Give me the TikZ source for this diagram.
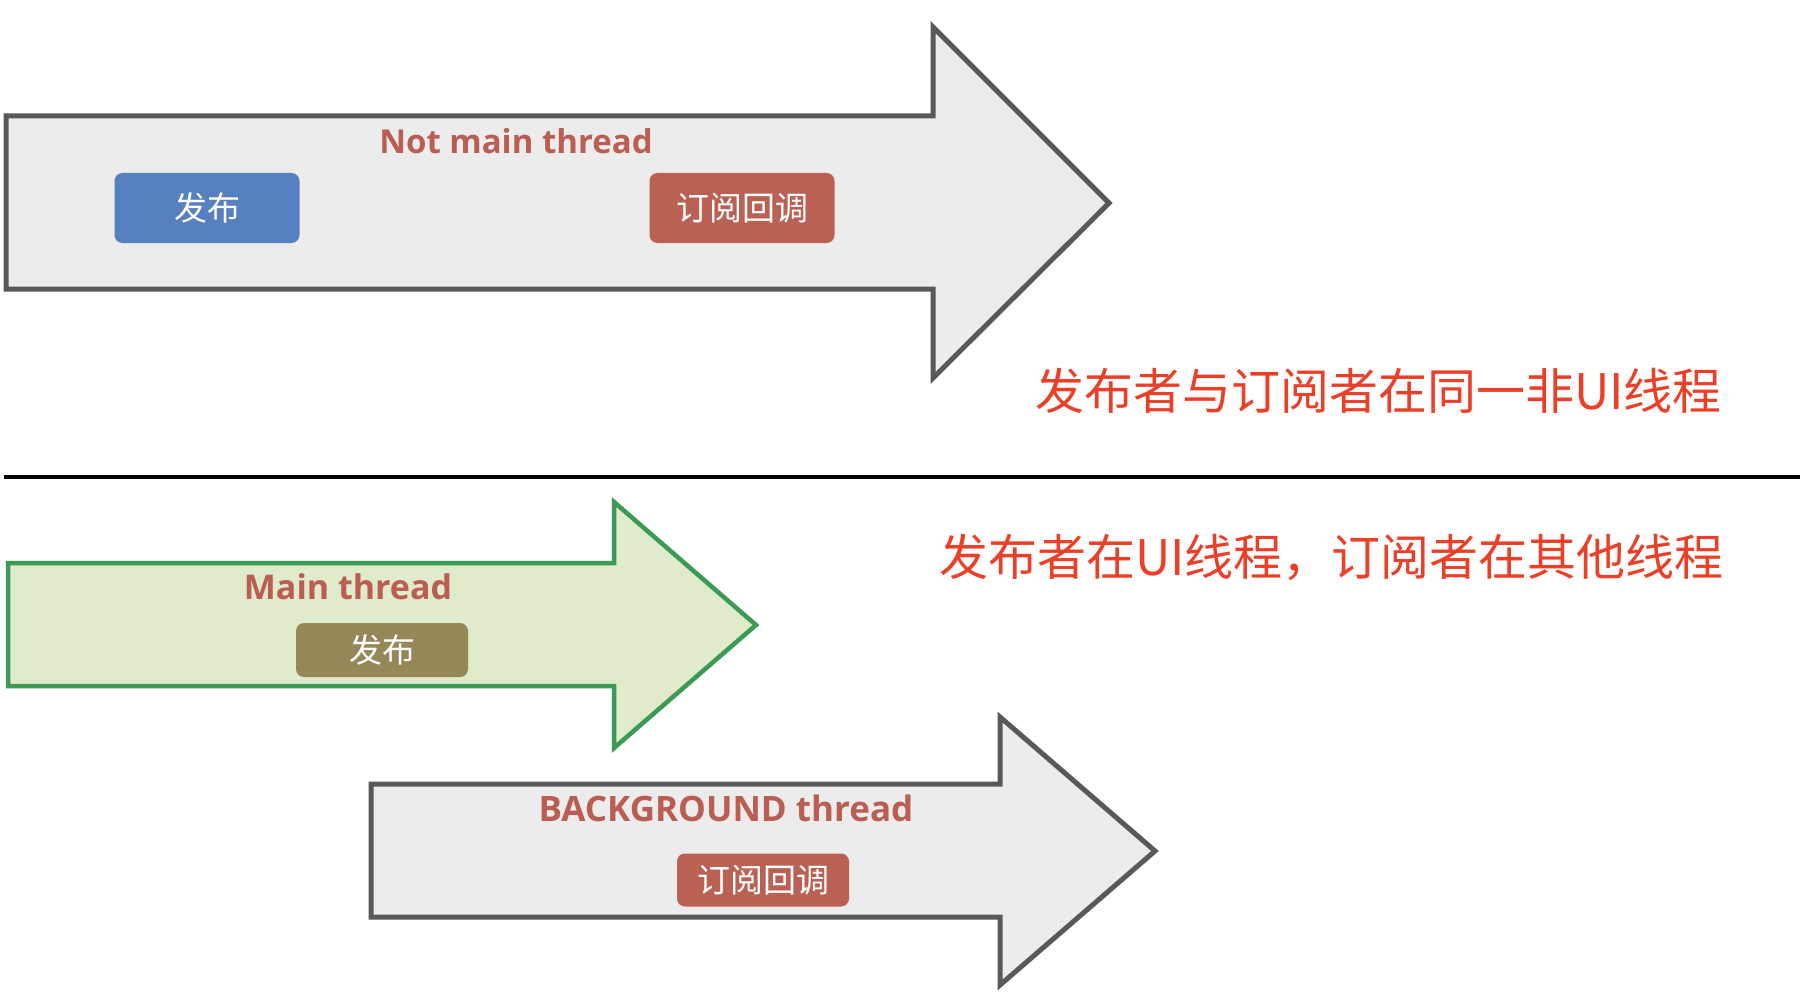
\documentclass[tikz,border=0pt]{standalone}
\usepackage{fontspec}
\setmainfont{Open Sans}
\newfontfamily\cjk{Noto Sans CJK SC}
\definecolor{grayfill}{HTML}{ECECEC}
\definecolor{graydraw}{HTML}{595959}
\definecolor{greenfill}{HTML}{DFEBCB}
\definecolor{greendraw}{HTML}{3C9A57}
\definecolor{lbl}{HTML}{BA5D52}
\definecolor{bluebox}{HTML}{5680BF}
\definecolor{redbox}{HTML}{BB6153}
\definecolor{olivebox}{HTML}{958758}
\definecolor{note}{HTML}{EC3F27}
\begin{document}
\begin{tikzpicture}[x=1pt,y=-1pt,
  grayarrow/.style={draw=graydraw,fill=grayfill,line width=5pt,line join=miter},
  greenarrow/.style={draw=greendraw,fill=greenfill,line width=4.5pt,line join=miter},
  lbltext/.style={text=lbl,font=\fontsize{#1}{40}\selectfont\bfseries,inner sep=0pt},
  boxnode/.style={rounded corners=8pt,text=white,font=\cjk\fontsize{33}{38}\selectfont,inner sep=0pt},
  notetext/.style={text=note,font=\cjk\fontsize{49}{54}\selectfont,inner sep=0pt}]
\useasboundingbox (0,0) rectangle (1800,1006);
\fill[white] (0,0) rectangle (1800,1006);
% top arrow
\draw[grayarrow] (6,116) -- (933,116) -- (933,27) -- (1109,203) -- (933,378) -- (933,289) -- (6,289) -- cycle;
\node[lbltext=33] (nmt) at (516,141) {Not main thread};
\node[boxnode,fill=bluebox,minimum width=185pt,minimum height=70pt] (pub1) at (207,208) {发布};
\node[boxnode,fill=redbox,minimum width=185pt,minimum height=70pt] (sub1) at (742,208) {订阅回调};
\node[notetext,anchor=east] (note1) at (1722,391) {发布者与订阅者在同一非UI线程};
% separator
\coordinate (sepL) at (4,477);
\coordinate (sepR) at (1800,477);
\draw[line width=4pt,black] (sepL) -- (sepR);
% main thread arrow
\draw[greenarrow] (8,563) -- (614,563) -- (614,502) -- (756,625) -- (614,748) -- (614,686) -- (8,686) -- cycle;
\node[lbltext=34] (mt) at (348,587) {Main thread};
\node[boxnode,fill=olivebox,minimum width=172pt,minimum height=54pt] (pub2) at (382,650) {发布};
\node[notetext,anchor=east] (note2) at (1724,557) {发布者在UI线程，订阅者在其他线程};
% background arrow
\draw[grayarrow] (371,784) -- (1000,784) -- (1000,717) -- (1155,851) -- (1000,985) -- (1000,917) -- (371,917) -- cycle;
\node[lbltext=35] (bgt) at (726,808) {BACKGROUND thread};
\node[boxnode,fill=redbox,minimum width=172pt,minimum height=53pt] (sub2) at (763,880) {订阅回调};
\end{tikzpicture}
\end{document}
